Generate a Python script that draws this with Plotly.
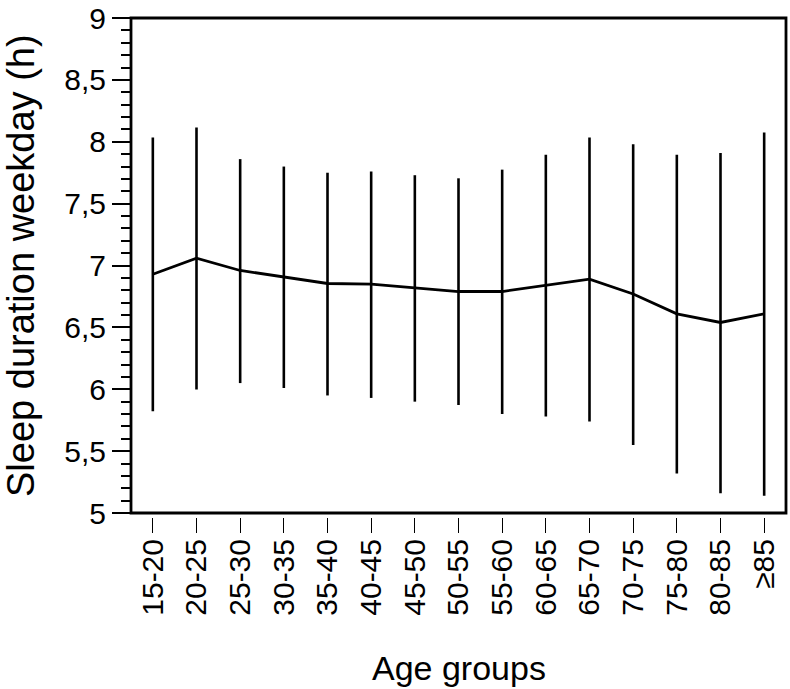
import plotly.graph_objects as go

age_groups = ["15-20", "20-25", "25-30", "30-35", "35-40", "40-45", "45-50", "50-55",
              "55-60", "60-65", "65-70", "70-75", "75-80", "80-85", "≥85"]
mean_sleep = [6.93, 7.06, 6.96, 6.91, 6.855, 6.85, 6.82, 6.79,
              6.79, 6.84, 6.89, 6.77, 6.61, 6.54, 6.61]
upper_sleep = [8.035, 8.115, 7.86, 7.80, 7.75, 7.76, 7.73, 7.705,
               7.775, 7.895, 8.035, 7.98, 7.895, 7.91, 8.075]
lower_sleep = [5.822, 5.999, 6.05, 6.01, 5.95, 5.93, 5.90, 5.873,
               5.80, 5.78, 5.74, 5.55, 5.32, 5.16, 5.14]
y_ticks = [5, 5.5, 6, 6.5, 7, 7.5, 8, 8.5, 9]

err_plus = [u - m for u, m in zip(upper_sleep, mean_sleep)]
err_minus = [m - l for m, l in zip(mean_sleep, lower_sleep)]

FONT = "Liberation Sans, Arial, Helvetica, sans-serif"
W, H = 790, 689
ML, MR, MT, MB = 131, 4, 18, 172
PLOT_H = H - MT - MB

fig = go.Figure()
fig.add_trace(go.Scatter(
    x=age_groups, y=mean_sleep, mode="lines",
    line=dict(color="black", width=2.8),
    error_y=dict(type="data", symmetric=False, array=err_plus, arrayminus=err_minus,
                 width=0, thickness=2.6, color="black"),
    showlegend=False, cliponaxis=False, hoverinfo="skip",
))

fig.add_shape(type="rect", xref="x domain", yref="y domain", x0=0, x1=1, y0=0, y1=1,
              line=dict(color="black", width=2.8), fillcolor="rgba(0,0,0,0)", layer="above")

# axis titles as annotations for precise placement
fig.add_annotation(text="Sleep duration weekday (h)", textangle=-90,
                   xref="paper", x=0, xshift=-(ML - 21), xanchor="center",
                   yref="paper", y=(H - MB - 266) / PLOT_H, yanchor="middle",
                   showarrow=False, font=dict(size=38, family=FONT, color="black"))
fig.add_annotation(text="Age groups",
                   xref="paper", x=0.5, xanchor="center",
                   yref="paper", y=0, yshift=-(668 - (H - MB)), yanchor="middle",
                   showarrow=False, font=dict(size=34, family=FONT, color="black"))

fig.update_layout(
    width=W, height=H,
    margin=dict(l=ML, r=MR, t=MT, b=MB),
    paper_bgcolor="white", plot_bgcolor="white",
    separators=",.",
    font=dict(family=FONT, color="black"),
    xaxis=dict(
        type="category", range=[-0.5, 14.5], anchor="free", position=0,
        automargin=False,
        showline=False, showgrid=False, zeroline=False,
        ticks="outside", ticklen=15, tickwidth=1.4, tickcolor="black",
        tickangle=-90, tickfont=dict(size=30, family=FONT), ticklabelstandoff=-6,
    ),
    yaxis=dict(
        range=[5, 9.0005], domain=[0.008, 1], tickvals=y_ticks,
        automargin=False, ticklabeloverflow="allow",
        showline=False, showgrid=False, zeroline=False,
        ticks="outside", ticklen=18, tickwidth=2, tickcolor="black",
        tickfont=dict(size=30, family=FONT),
        minor=dict(dtick=0.1, tick0=5, ticks="outside", ticklen=9, tickwidth=1.6,
                   tickcolor="black", showgrid=False),
    ),
)

fig.write_html("out.html", config={"displayModeBar": False},
               post_script="document.body.style.margin='0px';")
